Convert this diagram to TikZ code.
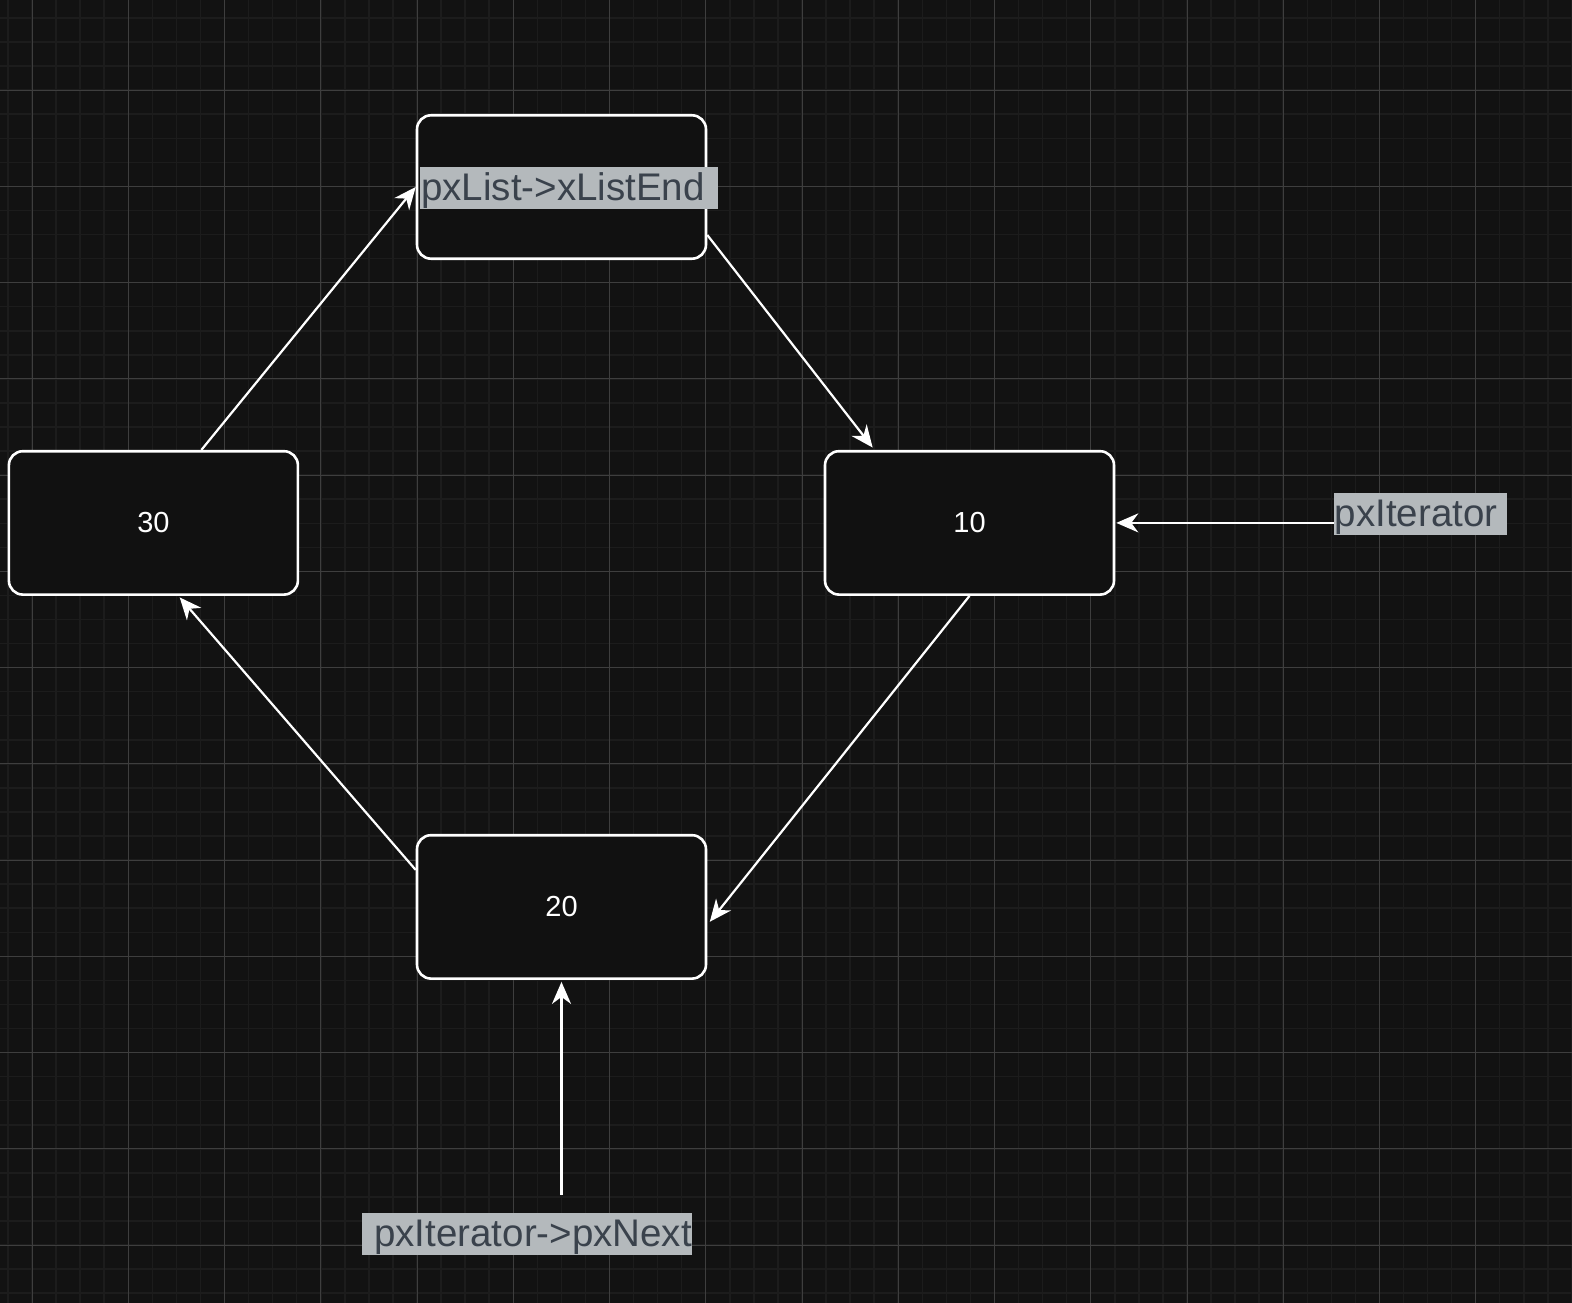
\documentclass[tikz,border=0pt]{standalone}
\usepackage{fontspec}
\setmainfont{Liberation Sans}
\usetikzlibrary{arrows.meta}
\definecolor{bgc}{RGB}{18,18,18}
\definecolor{minorc}{RGB}{28,28,28}
\definecolor{majorc}{RGB}{62,62,62}
\definecolor{boxfill}{RGB}{17,17,17}
\definecolor{lblbg}{RGB}{180,185,188}
\definecolor{lbltext}{RGB}{58,66,76}
\tikzset{
  listbox/.style={draw=white, line width=2.6pt, fill=boxfill, rounded corners=14pt,
    minimum width=289pt, minimum height=143.4pt, inner sep=0pt, text=white,
    font=\fontsize{29}{31}\selectfont},
  tag/.style={fill=lblbg, text=lbltext, inner sep=0pt, minimum height=42pt,
    text height=30.5pt, text depth=5.5pt,
    font=\fontsize{38.5}{40}\selectfont},
  link/.style={draw=white, line width=2.2pt, -{Stealth[length=22pt, width=19pt, inset=7pt]}}
}
\begin{document}
\begin{tikzpicture}[x=1pt, y=-1pt]
\useasboundingbox (0,0) rectangle (1572,1303);
\fill[bgc] (0,0) rectangle (1572,1303);
\foreach \i in {0,...,65} {\draw[minorc, line width=1.5pt] (8+24.06*\i,0) -- (8+24.06*\i,1303);}
\foreach \j in {0,...,53} {\draw[minorc, line width=1.5pt] (0,18+24.06*\j) -- (1572,18+24.06*\j);}
\foreach \i in {0,...,16} {\draw[majorc, line width=1pt] (32.1+96.25*\i,0) -- (32.1+96.25*\i,1303);}
\foreach \j in {0,...,12} {\draw[majorc, line width=1pt] (0,90.2+96.25*\j) -- (1572,90.2+96.25*\j);}

\node[listbox] (top) at (561.5,187) {};
\node[listbox] (n30) at (153.4,522.9) {\raisebox{-1pt}{30}};
\node[listbox] (n10) at (969.5,522.9) {\raisebox{-1pt}{10}};
\node[listbox] (n20) at (561.5,906.9) {\raisebox{-1pt}{20}};

\node[tag, anchor=west, inner xsep=1pt] (endlbl) at (420,188) {pxList->xListEnd\kern12pt};
\node[tag, anchor=west, inner xsep=1pt] (itlbl) at (1333.5,514) {pxIterator\kern9pt};
\node[tag, anchor=west, inner xsep=0pt] (nextlbl) at (362,1234) {\kern12pt pxIterator->pxNext};
\coordinate (nextsrc) at (561.5,1195);

\draw[link] ([xshift=48pt]n30.north) -- (top.west);
\draw[link, shorten >=3pt] ([yshift=-48pt]top.east) -- ([xshift=-95pt]n10.north);
\draw[link, shorten >=4pt] (n10.south) -- ([yshift=-18pt]n20.east);
\draw[link, shorten >=2pt] ([yshift=37pt]n20.west) -- ([xshift=25pt]n30.south);
\draw[link, shorten >=1pt] (itlbl.west |- n10.east) -- (n10.east);
\draw[link, shorten >=2pt] (nextsrc) -- (n20.south);
\end{tikzpicture}
\end{document}
